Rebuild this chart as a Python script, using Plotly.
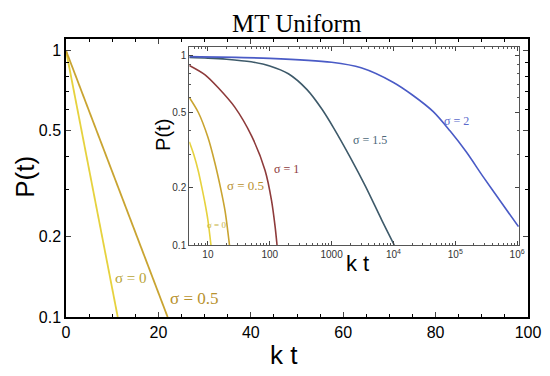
import plotly.graph_objects as go
import math

# ---- data ----
main_kt_s0 = [0, 11.2]
main_p_s0 = [1.0, 0.1]
main_kt_s05 = [0, 22.0]
main_p_s05 = [1.0, 0.1]

in_kt_s0 = [5, 6, 7, 8, 9, 10, 11.2]
in_p_s0 = [0.35, 0.295, 0.245, 0.2, 0.165, 0.135, 0.1]
in_kt_s05 = [5, 7, 10, 13, 16, 19, 22.3]
in_p_s05 = [0.6, 0.5, 0.37, 0.27, 0.2, 0.15, 0.1]
in_kt_s1 = [5, 9, 14.7, 27, 51, 84, 107, 122, 131]
in_p_s1 = [0.885, 0.79, 0.675, 0.535, 0.375, 0.247, 0.171, 0.125, 0.1]
in_kt_s15 = [5, 10, 20, 50, 100, 200, 400, 700, 1100, 2000, 3500, 6500, 10300]
in_p_s15 = [0.975, 0.968, 0.955, 0.925, 0.88, 0.80, 0.66, 0.52, 0.41, 0.29, 0.205, 0.135, 0.1]
in_kt_s2 = [5, 100, 1000, 3000, 10000, 20000, 44000, 82000, 150000, 285000, 530000, 1.05e6]
in_p_s2 = [0.985, 0.965, 0.92, 0.86, 0.72, 0.62, 0.505, 0.40, 0.31, 0.228, 0.171, 0.125]

main_x_ticks = [0, 20, 40, 60, 80, 100]
p_ticks = [1, 0.5, 0.2, 0.1]
p_tick_text = ["1", "0.5", "0.2", "0.1"]
inset_x_ticks = [10, 100, 1000, 1e4, 1e5, 1e6]
inset_x_text = ["10", "100", "1000", "10<sup>4</sup>", "10<sup>5</sup>", "10<sup>6</sup>"]

C0 = "#e6d23e"
C05 = "#c9a431"
C1 = "#8e3b3b"
C15 = "#3e5a6a"
C2 = "#4a5bc6"

SERIF = "Liberation Serif"
SANS = "Liberation Sans"

fig = go.Figure()
fig.add_trace(go.Scatter(x=main_kt_s0, y=main_p_s0, mode="lines", line=dict(color=C0, width=1.8), xaxis="x", yaxis="y"))
fig.add_trace(go.Scatter(x=main_kt_s05, y=main_p_s05, mode="lines", line=dict(color=C05, width=1.8), xaxis="x", yaxis="y"))

for xs, ys, c in [(in_kt_s0, in_p_s0, C0), (in_kt_s05, in_p_s05, C05), (in_kt_s1, in_p_s1, C1),
                  (in_kt_s15, in_p_s15, C15), (in_kt_s2, in_p_s2, C2)]:
    fig.add_trace(go.Scatter(x=xs, y=ys, mode="lines", line=dict(color=c, width=1.6, shape="spline", smoothing=0.8),
                             xaxis="x2", yaxis="y2"))

minor_p = [0.3, 0.4, 0.6, 0.7, 0.8, 0.9]
fig.update_layout(
    width=542, height=368,
    margin=dict(l=58, r=22, t=31, b=59),
    paper_bgcolor="white", plot_bgcolor="white",
    showlegend=False,
    xaxis=dict(domain=[0, 1], range=[0, 100], tickvals=main_x_ticks, ticks="inside", ticklen=5,
               showline=True, linecolor="black", linewidth=1.5, mirror="ticks", showgrid=False, zeroline=False,
               tickfont=dict(family=SANS, size=16, color="black"), automargin=False,
               minor=dict(dtick=5, ticks="inside", ticklen=3, tickcolor="black")),
    yaxis=dict(domain=[0, 1], type="log", range=[-1, 0.043], tickvals=p_ticks, ticktext=p_tick_text,
               ticks="inside", ticklen=5, showline=True, linecolor="black", linewidth=1.5, mirror="ticks",
               showgrid=False, zeroline=False, tickfont=dict(family=SANS, size=16, color="black"), automargin=False,
               minor=dict(tickvals=minor_p, ticks="inside", ticklen=3, tickcolor="black")),
    xaxis2=dict(domain=[0.2669, 0.9805], anchor="y2", type="log", range=[math.log10(5), 6.03],
                tickvals=inset_x_ticks, ticktext=inset_x_text, ticks="inside", ticklen=4,
                showline=True, linecolor="#555555", linewidth=1.2, mirror="ticks", showgrid=False, zeroline=False,
                tickfont=dict(family=SANS, size=10, color="#333333"), automargin=False,
                minor=dict(ticks="inside", ticklen=2, tickcolor="#555555", dtick="D1")),
    yaxis2=dict(domain=[0.259, 0.971], anchor="x2", type="log", range=[-1, 0.044],
                tickvals=p_ticks, ticktext=p_tick_text, ticks="inside", ticklen=4,
                showline=True, linecolor="#555555", linewidth=1.2, mirror="ticks", showgrid=False, zeroline=False,
                tickfont=dict(family=SANS, size=10, color="#333333"), automargin=False,
                minor=dict(tickvals=minor_p, ticks="inside", ticklen=2, tickcolor="#555555")),
)

ann = []
# title and axis titles
ann.append(dict(text="MT Uniform", xref="paper", yref="paper", x=0.5, y=1.056, showarrow=False,
                font=dict(family=SERIF, size=25, color="black"), xanchor="center", yanchor="middle"))
ann.append(dict(text="P(t)", xref="paper", yref="paper", x=-0.089, y=0.504, showarrow=False, textangle=-90,
                font=dict(family=SANS, size=26, color="black"), xanchor="center", yanchor="middle"))
ann.append(dict(text="k t", xref="paper", yref="paper", x=0.472, y=-0.137, showarrow=False,
                font=dict(family=SANS, size=26, color="black"), xanchor="center", yanchor="middle"))
ann.append(dict(text="P(t)", xref="paper", yref="paper", x=0.21, y=0.655, showarrow=False, textangle=-90,
                font=dict(family=SANS, size=20, color="black"), xanchor="center", yanchor="middle"))
ann.append(dict(text="k t", xref="paper", yref="paper", x=0.63, y=0.194, showarrow=False,
                font=dict(family=SANS, size=22, color="black"), xanchor="center", yanchor="middle"))
# main curve labels (data coords)
ann.append(dict(text="σ = 0", xref="x", yref="y", x=14.1, y=-0.854, showarrow=False,
                font=dict(family=SERIF, size=15, color="#b8a436")))
ann.append(dict(text="σ = 0.5", xref="x", yref="y", x=27.9, y=-0.929, showarrow=False,
                font=dict(family=SERIF, size=17, color="#b8922e")))
# inset curve labels (data coords, log values)
for t, lx, ly, c, s in [("σ = 2", 5.013, -0.345, "#5a6acb", 12), ("σ = 1.5", 3.621, -0.445, "#4c6878", 12),
                        ("σ = 1", 2.278, -0.598, "#8e3b3b", 12), ("σ = 0.5", 1.615, -0.688, "#b8902e", 13),
                        ("σ = 0", 1.146, -0.894, "#c8b440", 9)]:
    ann.append(dict(text=t, xref="x2", yref="y2", x=lx, y=ly, showarrow=False,
                    font=dict(family=SERIF, size=s, color=c)))
fig.update_layout(annotations=ann)

fig.write_html("out.html")
